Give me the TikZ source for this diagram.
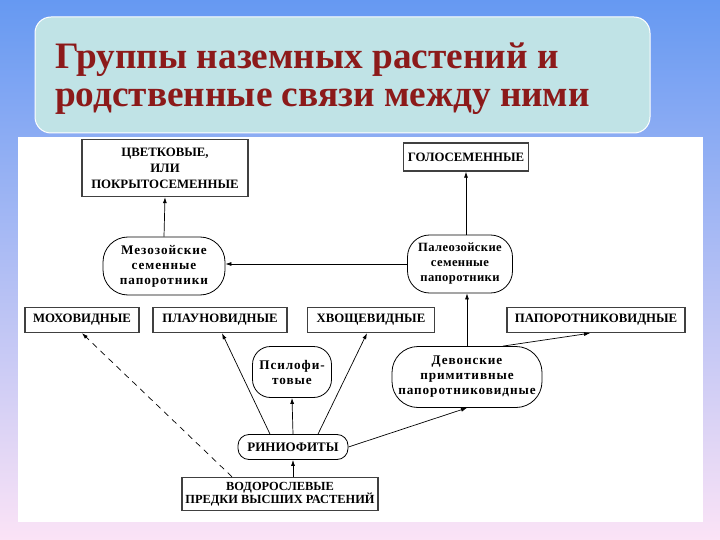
\documentclass[tikz,border=0pt]{standalone}
\usepackage{fontspec}
\setmainfont{Liberation Serif}
\usepackage{tikz}
\usetikzlibrary{arrows.meta}

\definecolor{skytop}{HTML}{6699F2}
\definecolor{skymid}{HTML}{A9C4F8}
\definecolor{skybot}{HTML}{FBE3F6}
\definecolor{titlefill}{HTML}{C0E3E6}
\definecolor{titlered}{HTML}{8C1A1A}

\tikzset{
  box/.style={draw=black!75, line width=1.4pt, fill=white, font=\bfseries\fontsize{12.8}{16}\selectfont,
    align=center, inner sep=1pt},
  rnd/.style={draw=black, line width=0.8pt, rounded corners=14pt, fill=white,
    font=\bfseries\fontsize{13.2}{15}\selectfont\addfontfeature{LetterSpace=7}, align=center, inner sep=1pt},
  arr/.style={-{Latex[length=6pt,width=4pt]}, line width=0.7pt},
}

\begin{document}
\begin{tikzpicture}[x=1pt, y=-1pt]
    \useasboundingbox (0,0) rectangle (720,540);
    % background
    \shade[top color=skytop, middle color=skymid, bottom color=skybot] (0,0) rectangle (720,540);
    % title
    \draw[white, line width=1pt, fill=titlefill, rounded corners=16pt] (35,17) rectangle (650,133);
    \node[anchor=base west, text=titlered, align=left, inner sep=0pt,
          font=\bfseries\fontsize{37.3}{38}\selectfont] (title) at (55,107)
        {Группы наземных растений и\\родственные связи между ними};
    % panel
    \fill[white] (18,137) rectangle (703,522);

    % nodes
    \node[box, minimum width=166pt, minimum height=57pt] (tsvet) at (165,168)
        {ЦВЕТКОВЫЕ,\\ИЛИ\\ПОКРЫТОСЕМЕННЫЕ};
    \node[box, minimum width=125pt, minimum height=28pt] (golos) at (466,157) {ГОЛОСЕМЕННЫЕ};
    \node[rnd, minimum width=122pt, minimum height=58pt, rounded corners=25pt] (mezo) at (164,266)
        {Мезозойские\\семенные\\папоротники};
    \node[rnd, minimum width=105pt, minimum height=58pt, rounded corners=22pt,
          font=\bfseries\fontsize{12.6}{15}\selectfont\addfontfeature{LetterSpace=3}] (paleo) at (460,264)
        {Палеозойские\\семенные\\папоротники};
    \node[box, minimum width=114pt, minimum height=25pt] (mokh) at (82,320) {МОХОВИДНЫЕ};
    \node[box, minimum width=134pt, minimum height=25pt] (plaun) at (220,320) {ПЛАУНОВИДНЫЕ};
    \node[box, minimum width=127pt, minimum height=25pt] (khvosh) at (371,320) {ХВОЩЕВИДНЫЕ};
    \node[box, minimum width=178pt, minimum height=25pt] (paporot) at (596,320) {ПАПОРОТНИКОВИДНЫЕ};
    \node[rnd, minimum width=150pt, minimum height=61pt, rounded corners=26pt] (devon) at (467,377)
        {Девонские\\примитивные\\папоротниковидные};
    \node[rnd, minimum width=79pt, minimum height=51pt, rounded corners=18pt] (psilo) at (292,372)
        {Псилофи-\\товые};
    \node[rnd, minimum width=110pt, minimum height=25pt, rounded corners=11pt,
          font=\bfseries\fontsize{13}{15}\selectfont] (rinio) at (293,447) {РИНИОФИТЫ};
    \node[box, minimum width=196pt, minimum height=33pt, font=\bfseries\fontsize{12.4}{13.5}\selectfont] (vodor) at (280,494)
        {ВОДОРОСЛЕВЫЕ\\ПРЕДКИ ВЫСШИХ РАСТЕНИЙ};

    % links
    \draw[arr] (mezo.north) -- (tsvet.south);
    \draw[arr] (golos.south |- paleo.north) -- (golos.south);
    \draw[arr] (paleo.west) -- (paleo.west -| mezo.east);
    \draw[arr] (devon.north) -- (devon.north |- paleo.south);
    \draw[arr] ([xshift=36pt]devon.north) -- ([xshift=-6pt]paporot.south);
    \draw[arr] (rinio.east) -- (devon.south);
    \draw[arr] ([xshift=-23pt]rinio.north) -- ([xshift=2pt]plaun.south);
    \draw[arr] ([xshift=25pt]rinio.north) -- ([xshift=-4pt]khvosh.south);
    \draw[arr] (rinio.north) -- (psilo.south);
    \draw[arr] (rinio.south |- vodor.north) -- (rinio.south);
    \draw[arr, dashed, dash pattern=on 6pt off 5pt] ([xshift=-48pt]vodor.north) -- (mokh.south);
\end{tikzpicture}
\end{document}
